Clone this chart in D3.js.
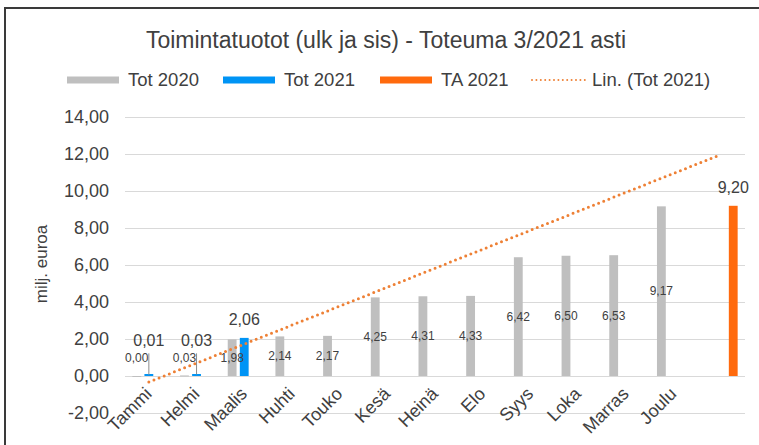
<!DOCTYPE html>
<html>
<head>
<meta charset="utf-8">
<script src="https://cdn.jsdelivr.net/npm/d3@7"></script>
<style>
    body { margin: 0; background: #fff; }
    text { font-family: "Liberation Sans", Arial, sans-serif; fill: #404040; }
</style>
</head>
<body>
<div id="chart-area"></div>
<script>
// Data
var months = ["Tammi", "Helmi", "Maalis", "Huhti", "Touko", "Kesä", "Heinä", "Elo",
    "Syys", "Loka", "Marras", "Joulu", ""];
var tot2020 = [0.00, 0.03, 1.98, 2.14, 2.17, 4.25, 4.31, 4.33, 6.42, 6.50, 6.53, 9.17];
var tot2021 = [0.01, 0.03, 2.06];
var ta2021 = [null, null, null, null, null, null, null, null, null, null, null, null, 9.20];
var yTicks = [-2, 0, 2, 4, 6, 8, 10, 12, 14];
var seriesNames = ["Tot 2020", "Tot 2021", "TA 2021", "Lin. (Tot 2021)"];

var colors = { tot2020: "#bfbfbf", tot2021: "#0094f5", ta2021: "#ff6a0d", trend: "#ee8035" };

var fi = d3.formatLocale({ decimal: ",", thousands: " ", grouping: [3], currency: ["", " €"], minus: "-" });
var fmt = fi.format(".2f");

var width = 759, height = 445;
var plot = { left: 125, right: 745, top: 117, bottom: 413 };

var svg = d3.select("#chart-area").append("svg")
    .attr("width", width)
    .attr("height", height);

// outer frame (cut off on right / bottom like the screenshot)
svg.append("rect")
    .attr("x", 5).attr("y", 8)
    .attr("width", 770).attr("height", 460)
    .attr("fill", "#fff")
    .attr("stroke", "#3a3a3a")
    .attr("stroke-width", 2);

// Scales
var x = d3.scaleBand().domain(d3.range(months.length)).range([plot.left, plot.right]);
var inner = d3.scaleBand().domain([0, 1, 2]).range([x.bandwidth() / 2 - 16.5, x.bandwidth() / 2 + 16.5]).paddingInner(0.27);
var y = d3.scaleLinear().domain([-2, 14]).range([plot.bottom, plot.top]);

// Title
svg.append("text")
    .attr("x", 386).attr("y", 48)
    .attr("text-anchor", "middle")
    .style("font-size", "23px")
    .text("Toimintatuotot (ulk ja sis) - Toteuma 3/2021 asti");

// Gridlines + y ticks
var yAxisCall = d3.axisLeft(y).tickValues(yTicks).tickFormat(fmt)
    .tickSize(-(plot.right - plot.left)).tickPadding(16);
var yAxis = svg.append("g")
    .attr("transform", "translate(" + plot.left + ",0)")
    .call(yAxisCall);
yAxis.select(".domain").remove();
yAxis.selectAll(".tick line").attr("stroke", "#d9d9d9").attr("stroke-width", 1);
yAxis.selectAll(".tick text")
    .attr("fill", "#404040")
    .style("font-size", "18px");

// Y-axis label
svg.append("text")
    .attr("transform", "translate(47,264) rotate(-90)")
    .attr("text-anchor", "middle")
    .style("font-size", "17px")
    .text("milj. euroa");

// Category labels
svg.append("g").selectAll("text")
    .data(months)
    .enter().append("text")
    .attr("transform", function(d, i) {
        return "translate(" + (x(i) + x.bandwidth() / 2 + 4) + ",395) rotate(-45)";
    })
    .attr("text-anchor", "end")
    .style("font-size", "18px")
    .text(function(d) { return d; });

var g = svg.append("g");

// Tot 2020 bars
g.selectAll(".bar2020")
    .data(tot2020)
    .enter().append("rect")
    .attr("class", "bar2020")
    .attr("x", function(d, i) { return x(i) + inner(0); })
    .attr("y", function(d) { return y(Math.max(d, 0)); })
    .attr("width", inner.bandwidth())
    .attr("height", function(d) { return Math.max(Math.abs(y(d) - y(0)), 1); })
    .attr("fill", colors.tot2020);

// Tot 2021 bars
g.selectAll(".bar2021")
    .data(tot2021)
    .enter().append("rect")
    .attr("class", "bar2021")
    .attr("x", function(d, i) { return x(i) + inner(1); })
    .attr("y", function(d) { return Math.min(y(d), y(0) - 2); })
    .attr("width", inner.bandwidth())
    .attr("height", function(d) { return Math.max(y(0) - y(d), 2); })
    .attr("fill", colors.tot2021);

// TA 2021 bars
g.selectAll(".barTA")
    .data(ta2021)
    .enter().filter(function(d) { return d != null; }).append("rect")
    .attr("class", "barTA")
    .attr("x", function(d) { return x(ta2021.indexOf(d)) + inner(2); })
    .attr("y", function(d) { return y(d); })
    .attr("width", inner.bandwidth())
    .attr("height", function(d) { return y(0) - y(d); })
    .attr("fill", colors.ta2021);

// Linear trendline of Tot 2021 (least squares, projected to the last category)
var xs = tot2021.map(function(d, i) { return i + 1; });
var mx = d3.mean(xs), my = d3.mean(tot2021);
var slope = d3.sum(xs, function(xv, i) { return (xv - mx) * (tot2021[i] - my); }) /
    d3.sum(xs, function(xv) { return (xv - mx) * (xv - mx); });
var intercept = my - slope * mx;
var trendPts = [1, months.length].map(function(k) { return { i: k - 1, v: intercept + slope * k }; });

var line = d3.line()
    .x(function(d) { return x(d.i) + x.bandwidth() / 2; })
    .y(function(d) { return y(d.v); });

g.append("path")
    .attr("d", line(trendPts))
    .attr("fill", "none")
    .attr("stroke", colors.trend)
    .attr("stroke-width", 3)
    .attr("stroke-linecap", "round")
    .attr("stroke-dasharray", "0,5.5");

// Labels Tot 2020 (centered in bar)
g.selectAll(".lab2020")
    .data(tot2020)
    .enter().append("text")
    .attr("x", function(d, i) { return x(i) + inner(0) + inner.bandwidth() / 2; })
    .attr("y", function(d) { return Math.min(y(d / 2), y(0) - 18); })
    .attr("dy", "0.35em")
    .attr("text-anchor", "middle")
    .style("font-size", "12px")
    .text(fmt);

// Labels Tot 2021 / TA 2021 + leader lines
function bigLabelY(d) { return Math.min(y(d), y(0.9)) - 13; }

g.selectAll(".leader")
    .data(tot2021.filter(function(d) { return y(d) - bigLabelY(d) > 20; }))
    .enter().append("line")
    .attr("x1", function(d) { return x(tot2021.indexOf(d)) + inner(1) + inner.bandwidth() / 2; })
    .attr("x2", function(d) { return x(tot2021.indexOf(d)) + inner(1) + inner.bandwidth() / 2; })
    .attr("y1", function(d) { return bigLabelY(d) + 7; })
    .attr("y2", function(d) { return y(d) - 1; })
    .attr("stroke", "#8c8c8c")
    .attr("stroke-width", 1);

g.selectAll(".lab2021")
    .data(tot2021)
    .enter().append("text")
    .attr("x", function(d, i) { return x(i) + inner(1) + inner.bandwidth() / 2; })
    .attr("y", bigLabelY)
    .attr("text-anchor", "middle")
    .style("font-size", "16px")
    .text(fmt);

g.selectAll(".labTA")
    .data(ta2021)
    .enter().filter(function(d) { return d != null; }).append("text")
    .attr("x", function(d) { return x(ta2021.indexOf(d)) + inner(2) + inner.bandwidth() / 2; })
    .attr("y", bigLabelY)
    .attr("text-anchor", "middle")
    .style("font-size", "16px")
    .text(fmt);

// Legend
var legendItems = [
    { name: seriesNames[0], color: colors.tot2020, x: 67, type: "rect" },
    { name: seriesNames[1], color: colors.tot2021, x: 223, type: "rect" },
    { name: seriesNames[2], color: colors.ta2021, x: 380, type: "rect" },
    { name: seriesNames[3], color: colors.trend, x: 531, type: "line" }
];
var legend = svg.append("g").attr("transform", "translate(0,80)");
legendItems.forEach(function(item) {
    if (item.type === "rect") {
        legend.append("rect")
            .attr("x", item.x).attr("y", -3.5)
            .attr("width", 52).attr("height", 7)
            .attr("fill", item.color);
    } else {
        legend.append("line")
            .attr("x1", item.x + 1).attr("x2", item.x + 54)
            .attr("stroke", item.color)
            .attr("stroke-width", 2)
            .attr("stroke-linecap", "round")
            .attr("stroke-dasharray", "0,4.4");
    }
    legend.append("text")
        .attr("x", item.x + 61)
        .attr("dy", "0.35em")
        .style("font-size", "18.5px")
        .text(item.name);
});
</script>
</body>
</html>
